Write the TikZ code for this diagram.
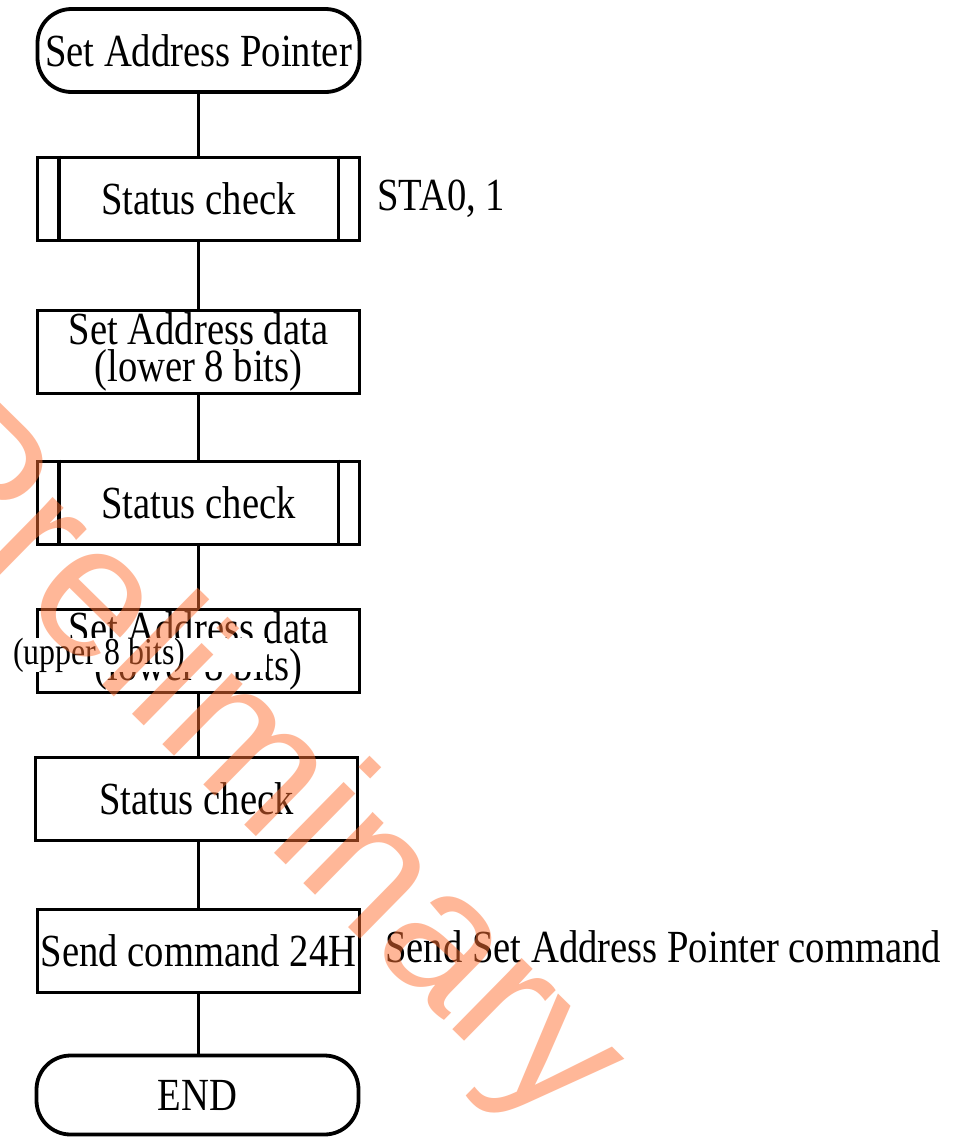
\documentclass[tikz,border=0pt]{standalone}
\usepackage{fontspec}
\setmainfont{Liberation Serif}[FakeStretch=0.84]
\newfontfamily\wmfont{Liberation Sans}
\definecolor{wmorange}{RGB}{255,112,50}
\begin{document}
\begin{tikzpicture}[x=1pt,y=-1pt,
  every node/.style={font=\fontsize{46}{37}\selectfont, inner sep=0pt},
  box/.style={draw, line width=3.8pt, minimum width=322pt, minimum height=83pt, align=center, fill=white},
  term/.style={box, rounded corners=34pt},
  proc/.style={box},
  conn/.style={line width=3.5pt}]
\useasboundingbox (0,0) rectangle (960,1138);
\fill[white] (0,0) rectangle (960,1138);

\node[term] (start) at (198.5,50.5) {Set Address Pointer};
\node[proc] (s1) at (198.5,199) {Status check};
\node[box] (a1) at (198.5,352) {Set Address data\\(lower 8 bits)};
\node[proc] (s2) at (198.5,503) {Status check};
\node[box] (a2) at (198.5,651) {Set Address data\\(lower 8 bits)};
\node[box] (s3) at (196.5,799) {Status check};
\node[box] (cmd) at (198.5,951) {Send command 24H};
\node[term, minimum height=79pt] (end) at (197.5,1095) {END};

\foreach \n in {s1,s2} {
  \draw[line width=3.8pt] ([xshift=23pt]\n.north west) -- ([xshift=23pt]\n.south west);
  \draw[line width=3.8pt] ([xshift=-23pt]\n.north east) -- ([xshift=-23pt]\n.south east);
}

\draw[conn] (start.south) -- (s1.north);
\draw[conn] (s1.south) -- (a1.north);
\draw[conn] (a1.south) -- (s2.north);
\draw[conn] (s2.south) -- (a2.north);
\draw[conn] (a2.south) -- (a2.south |- s3.north);
\draw[conn] (cmd.north |- s3.south) -- (cmd.north);
\draw[conn] (cmd.south) -- (cmd.south |- end.north);

\node[anchor=base west] (sta) at (377,210) {STA0, 1};
\node[anchor=base west] (note) at (385,962) {Send Set Address Pointer command};

\node[anchor=base west, fill=white, inner xsep=2pt, inner ysep=0pt,
  font=\fontsize{38}{40}\selectfont] (up) at (11,664) {(upper 8 bits)\hspace*{80pt}};

\node[rotate=-44.5, text=wmorange, opacity=0.5,
  font=\wmfont\fontsize{188}{190}\selectfont] (wm) at (254.5,766.5) {Preliminary};
\end{tikzpicture}
\end{document}
